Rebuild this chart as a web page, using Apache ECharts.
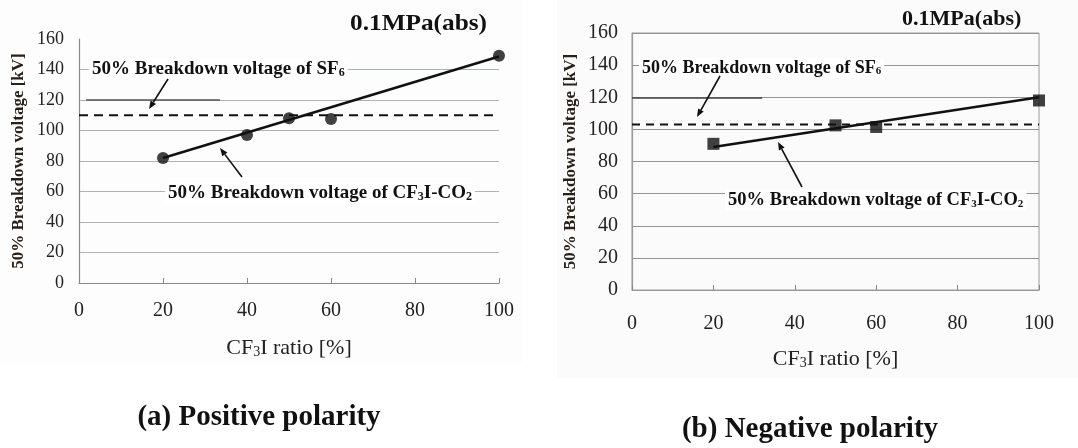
<!DOCTYPE html>
<html>
<head>
<meta charset="utf-8">
<script src="https://cdn.jsdelivr.net/npm/echarts@6/dist/echarts.min.js"></script>
<style>
  html, body { margin: 0; padding: 0; background: #ffffff; }
  #chart { width: 1078px; height: 448px; }
</style>
</head>
<body>
<div id="chart"></div>
<script>
// CF3I ratio [%] and 50% breakdown voltage [kV] at 0.1 MPa(abs)
var xTicks = [0, 20, 40, 60, 80, 100];
var yTicks = [0, 20, 40, 60, 80, 100, 120, 140, 160];

// (a) positive polarity
var posRatio = [20, 40, 50, 60, 100];
var posVoltage = [82, 97, 108, 107.5, 149];
var posFitRatio = [20, 100];
var posFitVoltage = [82, 148.5];
var posSF6 = 110;

// (b) negative polarity
var negRatio = [20, 50, 60, 100];
var negVoltage = [91, 102.5, 101.5, 118];
var negFitRatio = [20, 100];
var negFitVoltage = [89, 120];
var negSF6 = 103;

var SERIF = 'Liberation Serif';

function pairs(xs, ys) {
  return xs.map(function (x, i) { return [x, ys[i]]; });
}

function arrow(x1, y1, x2, y2) {
  var ang = Math.atan2(y2 - y1, x2 - x1);
  var L = 8, W = 3.2;
  var bx = x2 - L * Math.cos(ang), by = y2 - L * Math.sin(ang);
  var px = -Math.sin(ang) * W, py = Math.cos(ang) * W;
  return [
    { type: 'line', shape: { x1: x1, y1: y1, x2: bx, y2: by },
      style: { stroke: '#111', lineWidth: 1.6 }, z: 20 },
    { type: 'polygon', shape: { points: [[x2, y2], [bx + px, by + py], [bx - px, by - py]] },
      style: { fill: '#111' }, z: 20 }
  ];
}

function label(x, y, parts, size, sx) {
  return {
    type: 'text', x: x, y: y, scaleX: sx || 1, z: 15,
    style: {
      rich: {
        m: { fontFamily: SERIF, fontWeight: 'bold', fontSize: size, fill: '#111' },
        s: { fontFamily: SERIF, fontWeight: 'bold', fontSize: Math.round(size * 0.62), fill: '#111',
             verticalAlign: 'bottom' }
      },
      text: parts,
      verticalAlign: 'middle',
      backgroundColor: '#ffffff',
      padding: [1, 3, 1, 3]
    }
  };
}

var yAxisCommon = {
  type: 'value', min: 0, max: 160, interval: 20,
  nameLocation: 'middle', nameRotate: 90,
  nameTextStyle: { fontFamily: SERIF, fontWeight: 'bold', fontSize: 17, color: '#2a2018' },
  axisTick: { show: false },
  axisLabel: { fontFamily: SERIF, fontSize: 18, color: '#222', margin: 15 }
};
var xAxisCommon = {
  type: 'value', min: 0, max: 100, interval: 20,
  nameLocation: 'middle',
  nameTextStyle: { fontFamily: SERIF, fontSize: 22, color: '#222',
    rich: { s: { fontFamily: SERIF, fontSize: 14, color: '#222', verticalAlign: 'bottom' } } },
  axisTick: { show: true, inside: true, length: 5, lineStyle: { color: '#888' } },
  splitLine: { show: false },
  axisLabel: { fontFamily: SERIF, fontSize: 20, color: '#222' }
};

var chart = echarts.init(document.getElementById('chart'), null, { renderer: 'canvas' });

var option = {
  backgroundColor: '#ffffff',
  animation: false,
  textStyle: { fontFamily: SERIF },
  grid: [
    { left: 79, top: 39, width: 420, height: 244, show: false },
    { left: 632, top: 33, width: 407, height: 257, show: true, borderColor: '#9a9a9a', borderWidth: 1, backgroundColor: 'transparent' }
  ],
  xAxis: [
    Object.assign({}, xAxisCommon, {
      gridIndex: 0, name: 'CF{s|3}I ratio [%]', nameGap: 54,
      axisLine: { show: true, lineStyle: { color: '#8a8a8a', width: 1.2 } },
      axisLabel: Object.assign({}, xAxisCommon.axisLabel, { margin: 18 })
    }),
    Object.assign({}, xAxisCommon, {
      gridIndex: 1, name: 'CF{s|3}I ratio [%]', nameGap: 58,
      axisLine: { show: true, lineStyle: { color: '#9a9a9a', width: 1.2 } },
      axisLabel: Object.assign({}, xAxisCommon.axisLabel, { margin: 24 })
    })
  ],
  yAxis: [
    Object.assign({}, yAxisCommon, {
      gridIndex: 0, name: '50% Breakdown voltage [kV]', nameGap: 52,
      axisLine: { show: true, lineStyle: { color: '#8a8a8a', width: 1.2 } },
      splitLine: { show: true, lineStyle: { width: 1.2,
        color: ['transparent', '#a8b8ae', '#a8b8ae', '#a8b8ae', '#a8b8ae', '#a8b8ae', '#a8b8ae', '#a8b8ae', 'transparent'] } }
    }),
    Object.assign({}, yAxisCommon, {
      gridIndex: 1, name: '50% Breakdown voltage [kV]', nameGap: 53,
      axisLine: { show: true, lineStyle: { color: '#9a9a9a', width: 1.2 } },
      axisLabel: Object.assign({}, yAxisCommon.axisLabel, { fontSize: 20, margin: 14 }),
      splitLine: { show: true, lineStyle: { color: '#959595', width: 1.2 } }
    })
  ],
  series: [
    {
      name: 'SF6 (+)', type: 'line', xAxisIndex: 0, yAxisIndex: 0,
      data: [[0, posSF6], [100, posSF6]], symbol: 'none',
      lineStyle: { color: '#111', width: 2, type: [9, 6] }, z: 4,
      markLine: {
        silent: true, symbol: 'none', label: { show: false },
        lineStyle: { color: '#555', width: 1.5, type: 'solid' },
        data: [[{ coord: [1.7, 120] }, { coord: [33.6, 120] }]]
      }
    },
    {
      name: 'CF3I-CO2 fit (+)', type: 'line', xAxisIndex: 0, yAxisIndex: 0,
      data: pairs(posFitRatio, posFitVoltage), symbol: 'none',
      lineStyle: { color: '#111', width: 2.5 }, z: 5
    },
    {
      name: 'CF3I-CO2 (+)', type: 'scatter', xAxisIndex: 0, yAxisIndex: 0,
      data: pairs(posRatio, posVoltage), symbol: 'circle', symbolSize: 12,
      itemStyle: { color: '#111' }, z: 6
    },
    {
      name: 'SF6 (-)', type: 'line', xAxisIndex: 1, yAxisIndex: 1,
      data: [[0, negSF6], [100, negSF6]], symbol: 'none',
      lineStyle: { color: '#111', width: 2, type: [8, 6] }, z: 4,
      markLine: {
        silent: true, symbol: 'none', label: { show: false },
        lineStyle: { color: '#444', width: 1.5, type: 'solid' },
        data: [[{ coord: [0, 120] }, { coord: [32, 120] }]]
      }
    },
    {
      name: 'CF3I-CO2 fit (-)', type: 'line', xAxisIndex: 1, yAxisIndex: 1,
      data: pairs(negFitRatio, negFitVoltage), symbol: 'none',
      lineStyle: { color: '#111', width: 2.5 }, z: 5
    },
    {
      name: 'CF3I-CO2 (-)', type: 'scatter', xAxisIndex: 1, yAxisIndex: 1,
      data: pairs(negRatio, negVoltage), symbol: 'rect', symbolSize: 12,
      itemStyle: { color: '#111' }, z: 6
    }
  ],
  graphic: [
    // faint panel backgrounds
    { type: 'rect', shape: { x: 0, y: 0, width: 522, height: 365 }, style: { fill: '#fdfdfd' }, z: -10, silent: true },
    { type: 'rect', shape: { x: 557, y: 0, width: 521, height: 378 }, style: { fill: '#fbfbfb' }, z: -10, silent: true },
    // pressure headers
    { type: 'text', x: 350, y: 24, scaleX: 1.1, z: 15, style: { text: '0.1MPa(abs)', fontFamily: SERIF, fontWeight: 'bold', fontSize: 23, fill: '#111', verticalAlign: 'middle' } },
    { type: 'text', x: 902, y: 20, scaleX: 1.05, z: 15, style: { text: '0.1MPa(abs)', fontFamily: SERIF, fontWeight: 'bold', fontSize: 21, fill: '#111', verticalAlign: 'middle' } },
    // annotations
    label(89, 69, '{m|50% Breakdown voltage of SF}{s|6}', 19),
    label(165, 193, '{m|50% Breakdown voltage of CF}{s|3}{m|I-CO}{s|2}', 19),
    label(639, 68, '{m|50% Breakdown voltage of SF}{s|6}', 18),
    label(725, 200, '{m|50% Breakdown voltage of CF}{s|3}{m|I-CO}{s|2}', 18.5),
    // captions
    { type: 'text', x: 259, y: 418, z: 15, style: { text: '(a) Positive polarity', fontFamily: SERIF, fontWeight: 'bold', fontSize: 29, fill: '#111', align: 'center', verticalAlign: 'middle' } },
    { type: 'text', x: 810, y: 430, z: 15, style: { text: '(b) Negative polarity', fontFamily: SERIF, fontWeight: 'bold', fontSize: 29, fill: '#111', align: 'center', verticalAlign: 'middle' } }
  ].concat(arrow(168, 79, 149, 109))
   .concat(arrow(242, 177, 220, 148))
   .concat(arrow(720, 76, 697, 117))
   .concat(arrow(802, 187, 778, 142))
};

chart.setOption(option);
</script>
</body>
</html>
